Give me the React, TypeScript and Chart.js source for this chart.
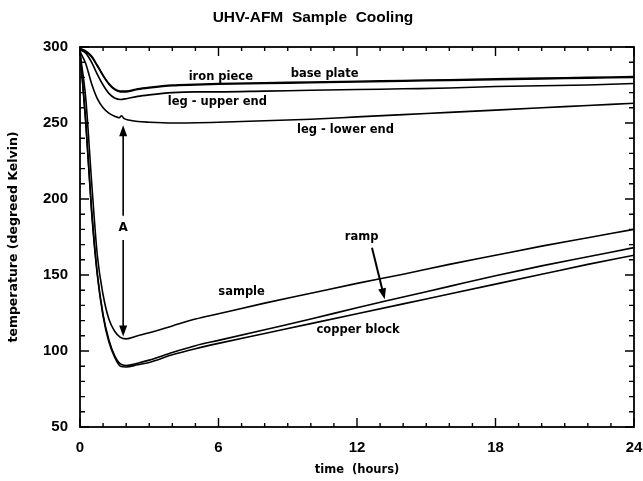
import { useEffect, useRef } from "react";
import { Chart, registerables } from "chart.js";

Chart.register(...registerables);

// ---- data (time in hours, temperature in Kelvin) ----
const hours = [0, 0.25, 0.5, 0.75, 1, 1.25, 1.5, 1.75, 2, 2.5, 3, 4, 5, 6, 8, 10, 12, 14, 16, 18, 20, 22, 24];
const legLowerHours = [0, 0.25, 0.5, 0.75, 1, 1.25, 1.5, 1.7, 1.8, 1.9, 2.1, 2.5, 3, 4, 6, 8, 10, 12, 14, 16, 18, 20, 22, 24];

const basePlate = [299, 297.5, 294, 288, 281.5, 276, 272.5, 271, 271, 272.5, 273.5, 275, 275.5, 276, 276.5, 277, 277.5, 278, 278.5, 279, 279.5, 280, 280.5];
const ironPiece = [299, 297, 293.5, 287.5, 281, 275.5, 272, 270.5, 270.5, 272, 273, 274.5, 275, 275.5, 276, 276.5, 277, 277.5, 278, 278.5, 279, 279.5, 280];
const legUpper = [298, 296, 290, 282, 275, 269.5, 266.5, 265.5, 266, 267.5, 268.5, 270, 270.5, 270.5, 271, 271.5, 272, 272.5, 273, 274, 274.5, 275, 276];
const legLower = [297, 289, 276, 266, 260, 256.5, 254.5, 253.5, 254.8, 253, 252, 251, 250.5, 250, 250.5, 251.5, 252.5, 254, 255.5, 257, 258.5, 260, 261.5, 263];
const sample = [296, 266, 212, 163, 137, 121, 113, 109, 108, 110, 112, 116.5, 121, 124.5, 131.5, 138, 144.5, 150.5, 157, 163, 169, 174.5, 180];
const ramp = [297, 251, 193.5, 151, 124, 107.5, 97, 91.5, 90.5, 92, 94, 99, 103.5, 107, 114, 121, 128.5, 135.5, 142.5, 149.5, 156, 162, 168];
const copperBlock = [297, 250, 192, 150, 123, 106, 96, 90, 89.5, 91, 92.5, 97.5, 101.5, 105, 111.5, 118, 124.5, 131, 137.5, 144, 150.5, 157, 163];

const xMin = 0, xMax = 24, xMajorStep = 6, xMinorStep = 1;
const yMin = 50, yMax = 300, yMajorStep = 50, yMinorStep = 10;

const titleText = "UHV-AFM  Sample  Cooling";
const xTitle = "time  (hours)";
const yTitle = "temperature (degreed Kelvin)";

// curve labels, in data coordinates (hours, Kelvin)
const curveLabels = [
  { text: "iron piece", t: 6.1, T: 280 },
  { text: "base plate", t: 10.6, T: 282.5 },
  { text: "leg - upper end", t: 5.95, T: 263.5 },
  { text: "leg - lower end", t: 11.5, T: 245.5 },
  { text: "ramp", t: 12.2, T: 175 },
  { text: "sample", t: 7.0, T: 139 },
  { text: "copper block", t: 12.05, T: 114 },
];
// "A" span arrow and ramp pointer arrow, data coordinates
const spanArrow = { t: 1.87, top: 248.5, bottom: 109.5, gapTop: 189, gapBottom: 173, label: "A", labelT: 181 };
const rampArrow = { t1: 12.65, T1: 168, t2: 13.2, T2: 134 };

const series = [
  { name: "base plate", x: hours, y: basePlate },
  { name: "iron piece", x: hours, y: ironPiece },
  { name: "leg - upper end", x: hours, y: legUpper },
  { name: "leg - lower end", x: legLowerHours, y: legLower },
  { name: "sample", x: hours, y: sample },
  { name: "ramp", x: hours, y: ramp },
  { name: "copper block", x: hours, y: copperBlock },
];

function arrowHead(ctx: CanvasRenderingContext2D, x1: number, y1: number, x2: number, y2: number) {
  const ang = Math.atan2(y2 - y1, x2 - x1);
  const len = 11, half = 4;
  ctx.beginPath();
  ctx.moveTo(x2, y2);
  ctx.lineTo(x2 - len * Math.cos(ang) + half * Math.sin(ang), y2 - len * Math.sin(ang) - half * Math.cos(ang));
  ctx.lineTo(x2 - len * Math.cos(ang) - half * Math.sin(ang), y2 - len * Math.sin(ang) + half * Math.cos(ang));
  ctx.closePath();
  ctx.fill();
}

const framePlugin = {
  id: "frameTicks",
  afterDatasetsDraw(chart: any) {
    const { ctx, chartArea, scales } = chart;
    const { left, right, top, bottom } = chartArea;
    const xs = scales.x, ys = scales.y;
    ctx.save();
    ctx.strokeStyle = "#000";
    ctx.lineWidth = 1.8;
    ctx.strokeRect(left, top, right - left, bottom - top);
    ctx.lineWidth = 1.4;
    ctx.beginPath();
    for (let h = xMin; h <= xMax; h += xMinorStep) {
      const px = xs.getPixelForValue(h);
      const len = h % xMajorStep === 0 ? 9 : 4;
      ctx.moveTo(px, bottom); ctx.lineTo(px, bottom - len);
      ctx.moveTo(px, top); ctx.lineTo(px, top + len);
    }
    for (let k = yMin; k <= yMax; k += yMinorStep) {
      const py = ys.getPixelForValue(k);
      const len = (k - yMin) % yMajorStep === 0 ? 9 : 5;
      ctx.moveTo(left, py); ctx.lineTo(left + len, py);
      ctx.moveTo(right, py); ctx.lineTo(right - len, py);
    }
    ctx.stroke();

    ctx.fillStyle = "#000";
    ctx.font = "bold 15.5px 'Liberation Sans', Arial, sans-serif";
    ctx.textAlign = "center";
    ctx.textBaseline = "middle";
    ctx.fillText(titleText, (left + right) / 2 - 44, 18);

    ctx.font = "bold 11.5px 'DejaVu Sans'";
    for (const l of curveLabels) {
      ctx.fillText(l.text, xs.getPixelForValue(l.t), ys.getPixelForValue(l.T));
    }
    const ax = xs.getPixelForValue(spanArrow.t);
    const aTop = ys.getPixelForValue(spanArrow.top);
    const aBot = ys.getPixelForValue(spanArrow.bottom);
    const gT = ys.getPixelForValue(spanArrow.gapTop);
    const gB = ys.getPixelForValue(spanArrow.gapBottom);
    ctx.lineWidth = 1.6;
    ctx.beginPath();
    ctx.moveTo(ax, aTop + 8); ctx.lineTo(ax, gT);
    ctx.moveTo(ax, gB); ctx.lineTo(ax, aBot - 8);
    ctx.stroke();
    arrowHead(ctx, ax, aTop + 20, ax, aTop);
    arrowHead(ctx, ax, aBot - 20, ax, aBot);
    ctx.font = "bold 12px 'DejaVu Sans'";
    ctx.fillText(spanArrow.label, ax, ys.getPixelForValue(spanArrow.labelT));
    const r1x = xs.getPixelForValue(rampArrow.t1), r1y = ys.getPixelForValue(rampArrow.T1);
    const r2x = xs.getPixelForValue(rampArrow.t2), r2y = ys.getPixelForValue(rampArrow.T2);
    ctx.lineWidth = 2;
    ctx.beginPath();
    ctx.moveTo(r1x, r1y);
    ctx.lineTo(r1x + (r2x - r1x) * 0.85, r1y + (r2y - r1y) * 0.85);
    ctx.stroke();
    arrowHead(ctx, r1x, r1y, r2x, r2y);
    ctx.restore();
  },
};

export default function App() {
  const ref = useRef<HTMLCanvasElement | null>(null);
  useEffect(() => {
    if (!ref.current) return;
    const chart = new Chart(ref.current, {
      type: "line",
      data: {
        datasets: series.map((s) => ({
          label: s.name,
          data: s.x.map((h, i) => ({ x: h, y: s.y[i] })),
          borderColor: "#000",
          borderWidth: 1.6,
          pointRadius: 0,
          fill: false,
          cubicInterpolationMode: "monotone" as const,
        })),
      },
      options: {
        animation: false,
        responsive: false,
        devicePixelRatio: 1,
        layout: { padding: { left: 0, right: 0, top: 47, bottom: 0 } },
        plugins: {
          legend: { display: false },
          tooltip: { enabled: false },
          title: { display: false },
        },
        scales: {
          x: {
            type: "linear",
            min: xMin,
            max: xMax,
            grid: { display: false, drawTicks: false },
            border: { display: false },
            ticks: {
              stepSize: xMajorStep,
              color: "#000",
              padding: 12,
              maxRotation: 0,
              font: { family: "'Liberation Sans', Arial, sans-serif", size: 15, weight: "bold" },
            },
            title: {
              display: true,
              text: xTitle,
              color: "#000",
              font: { family: "'DejaVu Sans'", size: 11.5, weight: "bold" },
              padding: { top: 0, bottom: 4 },
            },
            afterFit: (scale: any) => {
              scale.height = 54;
              scale.paddingRight = 9;
              scale.paddingLeft = 0;
            },
          },
          y: {
            type: "linear",
            min: yMin,
            max: yMax,
            grid: { display: false, drawTicks: false },
            border: { display: false },
            ticks: {
              stepSize: yMajorStep,
              color: "#000",
              padding: 12,
              font: { family: "'Liberation Sans', Arial, sans-serif", size: 15, weight: "bold" },
            },
            title: {
              display: true,
              text: yTitle,
              color: "#000",
              font: { family: "'DejaVu Sans'", size: 12.5, weight: "bold" },
              padding: { top: 6.5, bottom: 0 },
            },
            afterFit: (scale: any) => {
              scale.width = 80;
              scale.paddingTop = 0;
              scale.paddingBottom = 0;
            },
          },
        },
      },
      plugins: [framePlugin],
    });
    return () => chart.destroy();
  }, []);
  return (
    <div style={{ position: "fixed", left: 0, top: 0, width: 643, height: 481, background: "#fff" }}>
      <canvas ref={ref} width={643} height={481} />
    </div>
  );
}
